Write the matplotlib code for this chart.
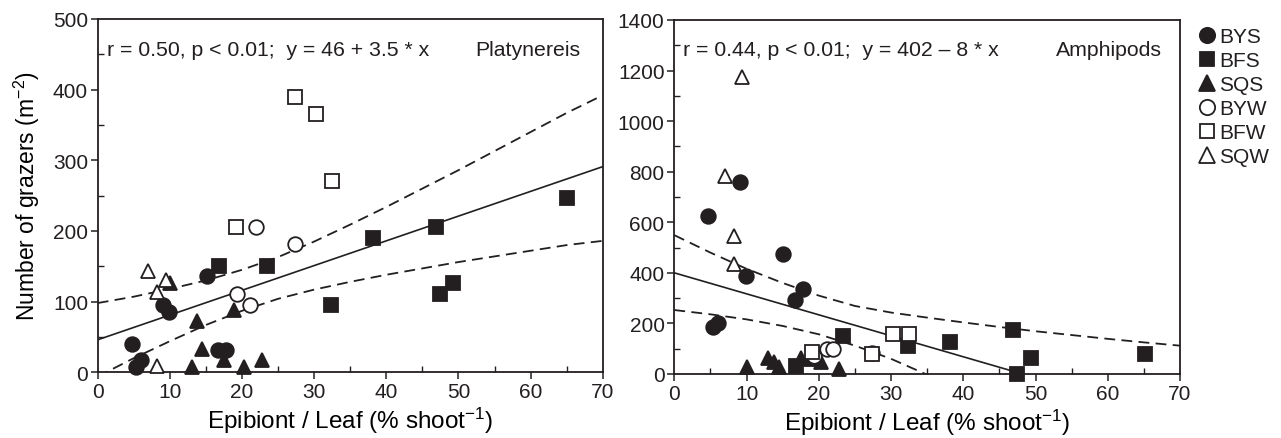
import matplotlib
matplotlib.use("Agg")
import matplotlib.pyplot as plt
from matplotlib.ticker import MultipleLocator

plt.rcParams['font.family'] = ['Liberation Sans', 'DejaVu Sans']
plt.rcParams['mathtext.fontset'] = 'custom'
plt.rcParams['mathtext.rm'] = 'Liberation Sans'
plt.rcParams['mathtext.it'] = 'Liberation Sans'
plt.rcParams['text.color'] = '#231f20'

INK = '#231f20'

# Epibiont / leaf (% shoot^-1) per site, with grazer densities for both panels
bys_x = [4.7, 5.3, 6.0, 9.1, 9.9, 15.1, 16.7, 17.8]
bys_plat = [40, 7, 17, 95, 86, 136, 32, 32]
bys_amph = [626, 185, 202, 761, 389, 475, 294, 336]

bfs_x = [16.8, 23.4, 32.3, 38.1, 46.9, 47.4, 49.3, 65.1]
bfs_plat = [150, 150, 95, 190, 206, 111, 127, 246]
bfs_amph = [30, 150, 111, 128, 175, 0, 64, 80]

sqs_x = [10.0, 13.0, 13.8, 14.5, 17.5, 18.9, 20.3, 22.8]
sqs_plat = [127, 8, 73, 33, 17, 88, 8, 17]
sqs_amph = [26, 62, 46, 26, 62, 60, 46, 20]

byw_x = [19.3, 21.1, 21.9, 27.4]
byw_plat = [111, 95, 206, 182]
byw_amph = [72, 99, 99, 82]

bfw_x = [19.1, 27.4, 30.2, 32.5]
bfw_plat = [206, 389, 366, 270]
bfw_amph = [88, 79, 158, 158]

sqw_x = [7.0, 8.2, 8.2, 9.4]
sqw_plat = [144, 113, 9, 130]
sqw_amph = [784, 544, 435, 1173]

# regression lines and 95% bands
band_x = [0, 5, 10, 15, 20, 25, 30, 35, 40, 45, 50, 55, 60, 65, 70]
plat_fit_x = [0, 70]
plat_fit_y = [46, 291]
plat_upper = [98, 107, 118, 130, 145, 163, 185, 209, 234, 260, 286, 313, 340, 367, 392]
plat_lower = [-6, 20, 44, 67, 87, 104, 117, 128, 138, 147, 156, 164, 172, 180, 186]

amph_fit_x = [0, 48.2]
amph_fit_y = [400, 0]
amph_upper = [549, 480, 416, 360, 310, 269, 243, 223, 204, 186, 169, 154, 139, 125, 112]
amph_lower_x = [0, 5, 10, 15, 20, 25, 30, 35]
amph_lower = [253, 236, 216, 190, 157, 112, 60, -3]

sites = ['BYS', 'BFS', 'SQS', 'BYW', 'BFW', 'SQW']
markers = ['o', 's', '^', 'o', 's', '^']
filled = [True, True, True, False, False, False]
sizes = [10.5, 9.5, 10.5, 10.5, 9.5, 10.5]

fig = plt.figure(figsize=(12.81, 4.39), dpi=100)
ax1 = fig.add_axes([0.0763, 0.1497, 0.3942, 0.8048])
ax2 = fig.add_axes([0.5264, 0.1458, 0.3948, 0.8064])


def draw_points(ax, xs_list, ys_list):
    for xs, ys, name, m, f, ms in zip(xs_list, ys_list, sites, markers, filled, sizes):
        ax.plot(xs, ys, linestyle='none', marker=m, markersize=ms,
                markerfacecolor=INK if f else 'white', markeredgecolor=INK,
                markeredgewidth=1.3, zorder=3 if f else 4, label=name, clip_on=False)


draw_points(ax1, [bys_x, bfs_x, sqs_x, byw_x, bfw_x, sqw_x],
            [bys_plat, bfs_plat, sqs_plat, byw_plat, bfw_plat, sqw_plat])
ax1.plot(plat_fit_x, plat_fit_y, color=INK, lw=1.2, zorder=2)
ax1.plot(band_x, plat_upper, color=INK, lw=1.3, ls=(0, (6, 3.5)), zorder=2)
ax1.plot(band_x, plat_lower, color=INK, lw=1.3, ls=(0, (6, 3.5)), zorder=2)

draw_points(ax2, [bys_x, bfs_x, sqs_x, byw_x, bfw_x, sqw_x],
            [bys_amph, bfs_amph, sqs_amph, byw_amph, bfw_amph, sqw_amph])
ax2.plot(amph_fit_x, amph_fit_y, color=INK, lw=1.2, zorder=2)
ax2.plot(band_x, amph_upper, color=INK, lw=1.3, ls=(0, (6, 3.5)), zorder=2)
ax2.plot(amph_lower_x, amph_lower, color=INK, lw=1.3, ls=(0, (6, 3.5)), zorder=2)

for ax, ymax, ystep in [(ax1, 500, 100), (ax2, 1400, 200)]:
    ax.set_xlim(0, 70)
    ax.set_ylim(0, ymax)
    ax.xaxis.set_major_locator(MultipleLocator(10))
    ax.xaxis.set_minor_locator(MultipleLocator(5))
    ax.yaxis.set_major_locator(MultipleLocator(ystep))
    ax.yaxis.set_minor_locator(MultipleLocator(ystep / 2))
    ax.tick_params(which='major', direction='out', length=5, width=1.1,
                   labelsize=15, colors=INK, pad=2)
    ax.tick_params(which='minor', direction='in', length=4, width=1.0, colors=INK)
    for s in ax.spines.values():
        s.set_linewidth(1.3)
        s.set_color(INK)
    ax.set_xlabel('Epibiont / Leaf (% shoot$^{-1}$)', fontsize=17.5, labelpad=3)

ax1.set_ylabel('Number of grazers (m$^{-2}$)', fontsize=16.5, labelpad=8)

ax1.text(0.018, 0.915, 'r = 0.50, p < 0.01;  y = 46 + 3.5 * x', transform=ax1.transAxes,
         fontsize=15.3, va='center', ha='left')
ax1.text(0.955, 0.915, 'Platynereis', transform=ax1.transAxes,
         fontsize=15.3, va='center', ha='right')
ax2.text(0.018, 0.918, 'r = 0.44, p < 0.01;  y = 402 \u2013 8 * x', transform=ax2.transAxes,
         fontsize=15.3, va='center', ha='left')
ax2.text(0.965, 0.918, 'Amphipods', transform=ax2.transAxes,
         fontsize=15.3, va='center', ha='right')

leg_handles = []
leg_sizes = [11, 9.5, 11, 11, 9.5, 11]
for name, m, f, ms in zip(sites, markers, filled, leg_sizes):
    h, = ax2.plot([], [], linestyle='none', marker=m, markersize=ms,
                  markerfacecolor=INK if f else 'white', markeredgecolor=INK,
                  markeredgewidth=1.3, label=name)
    leg_handles.append(h)
fig.legend(handles=leg_handles, loc='upper left', bbox_to_anchor=(1199 / 1281, 1 - 28 / 439),
           frameon=False, fontsize=15, handlelength=0.8, handletextpad=0.15,
           labelspacing=0.24, borderpad=0, borderaxespad=0)

fig.savefig('out.png', dpi=100)
